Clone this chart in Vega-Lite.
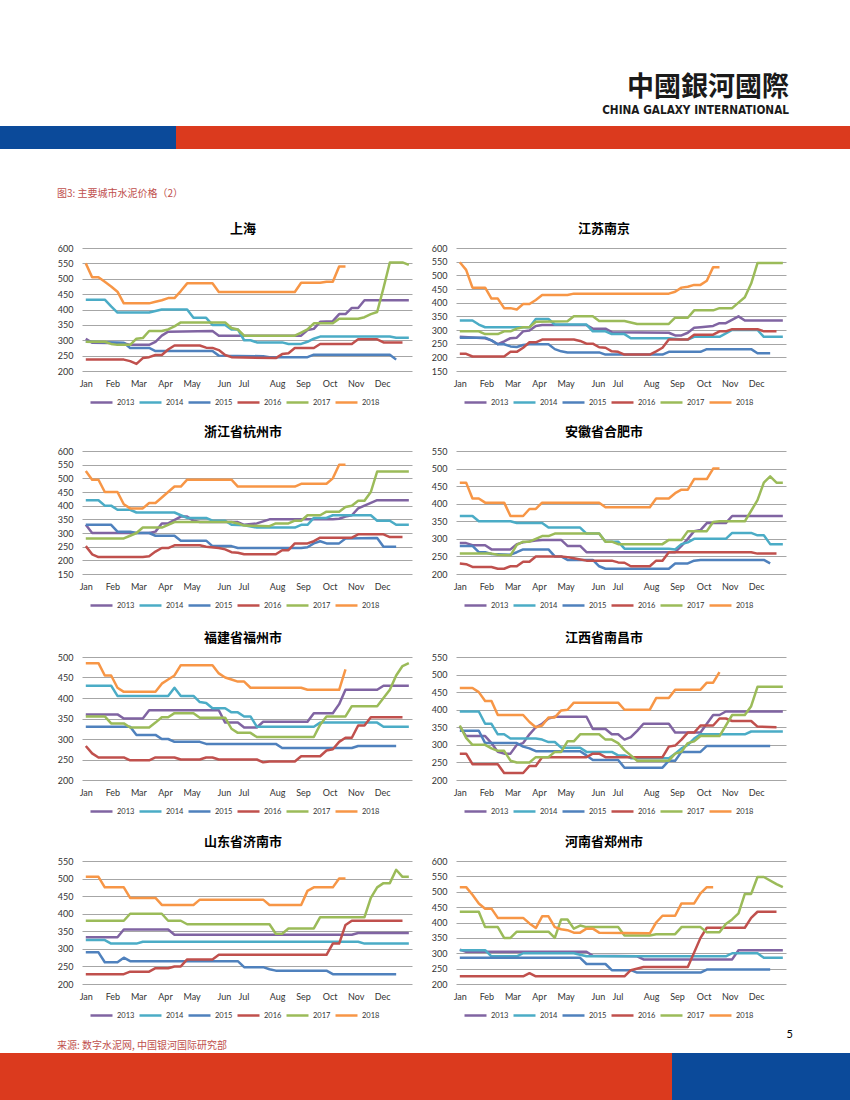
{
"$schema":"https://vega.github.io/schema/vega-lite/v6.json",
"background":"white",
"padding":{"top":74,"left":0,"right":0,"bottom":0},
"spacing":0,
"resolve":{"scale":{"color":"independent","x":"independent","y":"independent"},"legend":{"color":"independent"}},
"config":{
"view":{"stroke":null},
"axis":{"labelFont":"Lato","labelFontSize":9,"labelColor":"#333333","gridColor":"#A6A6A6","gridWidth":1,"domain":false,"ticks":false},
"legend":{"orient":"bottom","direction":"horizontal","symbolType":"stroke","symbolSize":484,"symbolStrokeWidth":3,"labelFont":"Lato","labelFontSize":7.5,"labelColor":"#333333","labelOffset":3,"columnPadding":3,"padding":7,"offset":-5},
"title":{"font":"Noto Sans CJK SC","fontSize":13,"fontWeight":"bold","color":"#000000","offset":8},
"line":{"strokeWidth":2.5,"strokeJoin":"round"}
},
"datasets":{
"sh":[
{"s":"2013","w":0,"v":305},{"s":"2013","w":1,"v":292},{"s":"2013","w":6,"v":290},{"s":"2013","w":7,"v":285},{"s":"2013","w":10,"v":285},{"s":"2013","w":11,"v":295},{"s":"2013","w":12,"v":315},{"s":"2013","w":13,"v":328},{"s":"2013","w":20,"v":330},{"s":"2013","w":21,"v":315},{"s":"2013","w":34,"v":315},{"s":"2013","w":35,"v":333},{"s":"2013","w":36,"v":337},{"s":"2013","w":37,"v":360},{"s":"2013","w":39,"v":362},{"s":"2013","w":40,"v":385},{"s":"2013","w":41,"v":385},{"s":"2013","w":42,"v":405},{"s":"2013","w":43,"v":405},{"s":"2013","w":44,"v":430},{"s":"2013","w":51,"v":430},
{"s":"2014","w":0,"v":432},{"s":"2014","w":3,"v":432},{"s":"2014","w":4,"v":410},{"s":"2014","w":5,"v":390},{"s":"2014","w":10,"v":390},{"s":"2014","w":11,"v":395},{"s":"2014","w":12,"v":400},{"s":"2014","w":16,"v":400},{"s":"2014","w":17,"v":373},{"s":"2014","w":19,"v":373},{"s":"2014","w":20,"v":350},{"s":"2014","w":22,"v":350},{"s":"2014","w":23,"v":335},{"s":"2014","w":24,"v":335},{"s":"2014","w":25,"v":300},{"s":"2014","w":26,"v":300},{"s":"2014","w":27,"v":293},{"s":"2014","w":31,"v":293},{"s":"2014","w":32,"v":288},{"s":"2014","w":34,"v":288},{"s":"2014","w":35,"v":295},{"s":"2014","w":36,"v":305},{"s":"2014","w":37,"v":312},{"s":"2014","w":48,"v":312},{"s":"2014","w":49,"v":308},{"s":"2014","w":51,"v":308},
{"s":"2015","w":0,"v":295},{"s":"2015","w":6,"v":292},{"s":"2015","w":7,"v":275},{"s":"2015","w":10,"v":275},{"s":"2015","w":11,"v":265},{"s":"2015","w":20,"v":265},{"s":"2015","w":21,"v":250},{"s":"2015","w":28,"v":248},{"s":"2015","w":29,"v":245},{"s":"2015","w":35,"v":245},{"s":"2015","w":36,"v":253},{"s":"2015","w":48,"v":253},{"s":"2015","w":49,"v":237},
{"s":"2016","w":0,"v":237},{"s":"2016","w":6,"v":237},{"s":"2016","w":7,"v":232},{"s":"2016","w":8,"v":223},{"s":"2016","w":9,"v":242},{"s":"2016","w":10,"v":245},{"s":"2016","w":11,"v":252},{"s":"2016","w":12,"v":252},{"s":"2016","w":13,"v":270},{"s":"2016","w":14,"v":283},{"s":"2016","w":18,"v":283},{"s":"2016","w":19,"v":276},{"s":"2016","w":20,"v":275},{"s":"2016","w":21,"v":268},{"s":"2016","w":22,"v":252},{"s":"2016","w":23,"v":245},{"s":"2016","w":30,"v":242},{"s":"2016","w":31,"v":255},{"s":"2016","w":32,"v":258},{"s":"2016","w":33,"v":275},{"s":"2016","w":36,"v":275},{"s":"2016","w":37,"v":288},{"s":"2016","w":42,"v":288},{"s":"2016","w":43,"v":303},{"s":"2016","w":46,"v":303},{"s":"2016","w":47,"v":293},{"s":"2016","w":50,"v":293},
{"s":"2017","w":0,"v":295},{"s":"2017","w":3,"v":295},{"s":"2017","w":4,"v":288},{"s":"2017","w":5,"v":285},{"s":"2017","w":7,"v":285},{"s":"2017","w":8,"v":305},{"s":"2017","w":9,"v":307},{"s":"2017","w":10,"v":330},{"s":"2017","w":12,"v":330},{"s":"2017","w":13,"v":335},{"s":"2017","w":14,"v":345},{"s":"2017","w":15,"v":358},{"s":"2017","w":22,"v":358},{"s":"2017","w":23,"v":340},{"s":"2017","w":24,"v":335},{"s":"2017","w":25,"v":315},{"s":"2017","w":33,"v":315},{"s":"2017","w":34,"v":325},{"s":"2017","w":35,"v":335},{"s":"2017","w":36,"v":355},{"s":"2017","w":39,"v":355},{"s":"2017","w":40,"v":370},{"s":"2017","w":43,"v":370},{"s":"2017","w":44,"v":375},{"s":"2017","w":45,"v":385},{"s":"2017","w":46,"v":392},{"s":"2017","w":47,"v":470},{"s":"2017","w":48,"v":553},{"s":"2017","w":50,"v":553},{"s":"2017","w":51,"v":545},
{"s":"2018","w":0,"v":550},{"s":"2018","w":1,"v":505},{"s":"2018","w":2,"v":505},{"s":"2018","w":3,"v":490},{"s":"2018","w":4,"v":475},{"s":"2018","w":5,"v":458},{"s":"2018","w":6,"v":420},{"s":"2018","w":10,"v":420},{"s":"2018","w":11,"v":425},{"s":"2018","w":12,"v":430},{"s":"2018","w":13,"v":437},{"s":"2018","w":14,"v":437},{"s":"2018","w":15,"v":460},{"s":"2018","w":16,"v":485},{"s":"2018","w":20,"v":485},{"s":"2018","w":21,"v":457},{"s":"2018","w":33,"v":457},{"s":"2018","w":34,"v":487},{"s":"2018","w":37,"v":487},{"s":"2018","w":38,"v":490},{"s":"2018","w":39,"v":490},{"s":"2018","w":40,"v":540},{"s":"2018","w":41,"v":540}
],
"nj":[
{"s":"2013","w":0,"v":275},{"s":"2013","w":4,"v":270},{"s":"2013","w":5,"v":262},{"s":"2013","w":6,"v":248},{"s":"2013","w":7,"v":258},{"s":"2013","w":8,"v":270},{"s":"2013","w":9,"v":272},{"s":"2013","w":10,"v":295},{"s":"2013","w":11,"v":298},{"s":"2013","w":12,"v":315},{"s":"2013","w":13,"v":318},{"s":"2013","w":20,"v":318},{"s":"2013","w":21,"v":305},{"s":"2013","w":23,"v":305},{"s":"2013","w":24,"v":292},{"s":"2013","w":33,"v":290},{"s":"2013","w":34,"v":280},{"s":"2013","w":35,"v":280},{"s":"2013","w":36,"v":290},{"s":"2013","w":37,"v":308},{"s":"2013","w":38,"v":310},{"s":"2013","w":40,"v":315},{"s":"2013","w":41,"v":325},{"s":"2013","w":42,"v":325},{"s":"2013","w":44,"v":350},{"s":"2013","w":45,"v":335},{"s":"2013","w":51,"v":335},
{"s":"2014","w":0,"v":335},{"s":"2014","w":2,"v":335},{"s":"2014","w":3,"v":320},{"s":"2014","w":4,"v":310},{"s":"2014","w":11,"v":310},{"s":"2014","w":12,"v":340},{"s":"2014","w":14,"v":340},{"s":"2014","w":15,"v":320},{"s":"2014","w":20,"v":320},{"s":"2014","w":21,"v":295},{"s":"2014","w":23,"v":295},{"s":"2014","w":24,"v":285},{"s":"2014","w":26,"v":285},{"s":"2014","w":27,"v":270},{"s":"2014","w":33,"v":270},{"s":"2014","w":35,"v":265},{"s":"2014","w":36,"v":265},{"s":"2014","w":37,"v":275},{"s":"2014","w":41,"v":275},{"s":"2014","w":43,"v":300},{"s":"2014","w":47,"v":300},{"s":"2014","w":48,"v":275},{"s":"2014","w":51,"v":275},
{"s":"2015","w":0,"v":272},{"s":"2015","w":4,"v":272},{"s":"2015","w":5,"v":262},{"s":"2015","w":6,"v":248},{"s":"2015","w":7,"v":248},{"s":"2015","w":8,"v":240},{"s":"2015","w":9,"v":238},{"s":"2015","w":10,"v":245},{"s":"2015","w":11,"v":248},{"s":"2015","w":14,"v":248},{"s":"2015","w":15,"v":230},{"s":"2015","w":16,"v":222},{"s":"2015","w":17,"v":218},{"s":"2015","w":22,"v":218},{"s":"2015","w":23,"v":210},{"s":"2015","w":32,"v":210},{"s":"2015","w":33,"v":220},{"s":"2015","w":38,"v":220},{"s":"2015","w":39,"v":230},{"s":"2015","w":46,"v":230},{"s":"2015","w":47,"v":215},{"s":"2015","w":49,"v":215},
{"s":"2016","w":0,"v":213},{"s":"2016","w":1,"v":213},{"s":"2016","w":2,"v":203},{"s":"2016","w":7,"v":203},{"s":"2016","w":8,"v":220},{"s":"2016","w":9,"v":220},{"s":"2016","w":10,"v":235},{"s":"2016","w":11,"v":255},{"s":"2016","w":12,"v":255},{"s":"2016","w":13,"v":265},{"s":"2016","w":18,"v":265},{"s":"2016","w":19,"v":260},{"s":"2016","w":20,"v":250},{"s":"2016","w":21,"v":250},{"s":"2016","w":22,"v":237},{"s":"2016","w":23,"v":235},{"s":"2016","w":24,"v":222},{"s":"2016","w":25,"v":220},{"s":"2016","w":26,"v":210},{"s":"2016","w":30,"v":210},{"s":"2016","w":31,"v":222},{"s":"2016","w":32,"v":235},{"s":"2016","w":33,"v":265},{"s":"2016","w":36,"v":265},{"s":"2016","w":37,"v":283},{"s":"2016","w":40,"v":283},{"s":"2016","w":41,"v":295},{"s":"2016","w":42,"v":295},{"s":"2016","w":43,"v":303},{"s":"2016","w":47,"v":303},{"s":"2016","w":48,"v":295},{"s":"2016","w":50,"v":295},
{"s":"2017","w":0,"v":295},{"s":"2017","w":3,"v":295},{"s":"2017","w":4,"v":285},{"s":"2017","w":6,"v":285},{"s":"2017","w":7,"v":295},{"s":"2017","w":8,"v":295},{"s":"2017","w":9,"v":305},{"s":"2017","w":10,"v":310},{"s":"2017","w":11,"v":310},{"s":"2017","w":12,"v":330},{"s":"2017","w":17,"v":332},{"s":"2017","w":18,"v":350},{"s":"2017","w":21,"v":350},{"s":"2017","w":22,"v":333},{"s":"2017","w":26,"v":333},{"s":"2017","w":28,"v":322},{"s":"2017","w":33,"v":322},{"s":"2017","w":34,"v":345},{"s":"2017","w":36,"v":345},{"s":"2017","w":37,"v":372},{"s":"2017","w":40,"v":372},{"s":"2017","w":41,"v":380},{"s":"2017","w":43,"v":380},{"s":"2017","w":44,"v":400},{"s":"2017","w":45,"v":420},{"s":"2017","w":46,"v":470},{"s":"2017","w":47,"v":545},{"s":"2017","w":51,"v":545},
{"s":"2018","w":0,"v":548},{"s":"2018","w":1,"v":520},{"s":"2018","w":2,"v":455},{"s":"2018","w":4,"v":455},{"s":"2018","w":5,"v":415},{"s":"2018","w":6,"v":415},{"s":"2018","w":7,"v":380},{"s":"2018","w":8,"v":380},{"s":"2018","w":9,"v":375},{"s":"2018","w":10,"v":395},{"s":"2018","w":11,"v":395},{"s":"2018","w":12,"v":410},{"s":"2018","w":13,"v":428},{"s":"2018","w":17,"v":428},{"s":"2018","w":18,"v":433},{"s":"2018","w":33,"v":433},{"s":"2018","w":34,"v":440},{"s":"2018","w":35,"v":455},{"s":"2018","w":36,"v":458},{"s":"2018","w":37,"v":465},{"s":"2018","w":38,"v":465},{"s":"2018","w":39,"v":480},{"s":"2018","w":40,"v":530},{"s":"2018","w":41,"v":530}
],
"hz":[
{"s":"2013","w":0,"v":330},{"s":"2013","w":1,"v":300},{"s":"2013","w":10,"v":300},{"s":"2013","w":11,"v":305},{"s":"2013","w":12,"v":335},{"s":"2013","w":13,"v":335},{"s":"2013","w":15,"v":360},{"s":"2013","w":16,"v":360},{"s":"2013","w":17,"v":345},{"s":"2013","w":18,"v":340},{"s":"2013","w":24,"v":340},{"s":"2013","w":25,"v":330},{"s":"2013","w":27,"v":335},{"s":"2013","w":29,"v":350},{"s":"2013","w":39,"v":350},{"s":"2013","w":40,"v":352},{"s":"2013","w":41,"v":360},{"s":"2013","w":42,"v":365},{"s":"2013","w":43,"v":390},{"s":"2013","w":44,"v":400},{"s":"2013","w":45,"v":410},{"s":"2013","w":46,"v":420},{"s":"2013","w":51,"v":420},
{"s":"2014","w":0,"v":420},{"s":"2014","w":2,"v":420},{"s":"2014","w":3,"v":400},{"s":"2014","w":4,"v":400},{"s":"2014","w":5,"v":385},{"s":"2014","w":7,"v":385},{"s":"2014","w":8,"v":375},{"s":"2014","w":14,"v":375},{"s":"2014","w":15,"v":365},{"s":"2014","w":16,"v":355},{"s":"2014","w":19,"v":355},{"s":"2014","w":20,"v":345},{"s":"2014","w":22,"v":345},{"s":"2014","w":23,"v":330},{"s":"2014","w":25,"v":328},{"s":"2014","w":27,"v":320},{"s":"2014","w":33,"v":320},{"s":"2014","w":34,"v":330},{"s":"2014","w":35,"v":330},{"s":"2014","w":36,"v":355},{"s":"2014","w":38,"v":355},{"s":"2014","w":39,"v":365},{"s":"2014","w":45,"v":365},{"s":"2014","w":46,"v":345},{"s":"2014","w":48,"v":345},{"s":"2014","w":49,"v":330},{"s":"2014","w":51,"v":330},
{"s":"2015","w":0,"v":330},{"s":"2015","w":4,"v":330},{"s":"2015","w":5,"v":305},{"s":"2015","w":7,"v":305},{"s":"2015","w":8,"v":300},{"s":"2015","w":10,"v":300},{"s":"2015","w":11,"v":290},{"s":"2015","w":14,"v":290},{"s":"2015","w":15,"v":272},{"s":"2015","w":19,"v":272},{"s":"2015","w":20,"v":252},{"s":"2015","w":23,"v":252},{"s":"2015","w":24,"v":245},{"s":"2015","w":34,"v":245},{"s":"2015","w":35,"v":248},{"s":"2015","w":36,"v":262},{"s":"2015","w":37,"v":270},{"s":"2015","w":38,"v":262},{"s":"2015","w":40,"v":262},{"s":"2015","w":41,"v":280},{"s":"2015","w":46,"v":282},{"s":"2015","w":47,"v":250},{"s":"2015","w":49,"v":250},
{"s":"2016","w":0,"v":252},{"s":"2016","w":1,"v":222},{"s":"2016","w":2,"v":212},{"s":"2016","w":9,"v":212},{"s":"2016","w":10,"v":215},{"s":"2016","w":11,"v":232},{"s":"2016","w":12,"v":245},{"s":"2016","w":13,"v":245},{"s":"2016","w":14,"v":255},{"s":"2016","w":18,"v":255},{"s":"2016","w":19,"v":250},{"s":"2016","w":21,"v":245},{"s":"2016","w":22,"v":240},{"s":"2016","w":23,"v":230},{"s":"2016","w":24,"v":228},{"s":"2016","w":25,"v":222},{"s":"2016","w":30,"v":222},{"s":"2016","w":31,"v":237},{"s":"2016","w":32,"v":237},{"s":"2016","w":33,"v":262},{"s":"2016","w":35,"v":262},{"s":"2016","w":36,"v":270},{"s":"2016","w":37,"v":283},{"s":"2016","w":42,"v":283},{"s":"2016","w":43,"v":295},{"s":"2016","w":47,"v":295},{"s":"2016","w":48,"v":285},{"s":"2016","w":50,"v":285},
{"s":"2017","w":0,"v":280},{"s":"2017","w":6,"v":280},{"s":"2017","w":7,"v":290},{"s":"2017","w":8,"v":300},{"s":"2017","w":9,"v":320},{"s":"2017","w":12,"v":320},{"s":"2017","w":13,"v":330},{"s":"2017","w":14,"v":340},{"s":"2017","w":23,"v":340},{"s":"2017","w":24,"v":335},{"s":"2017","w":25,"v":327},{"s":"2017","w":29,"v":325},{"s":"2017","w":30,"v":335},{"s":"2017","w":32,"v":335},{"s":"2017","w":33,"v":345},{"s":"2017","w":34,"v":345},{"s":"2017","w":35,"v":365},{"s":"2017","w":37,"v":365},{"s":"2017","w":38,"v":378},{"s":"2017","w":40,"v":378},{"s":"2017","w":41,"v":395},{"s":"2017","w":42,"v":400},{"s":"2017","w":43,"v":418},{"s":"2017","w":44,"v":418},{"s":"2017","w":45,"v":450},{"s":"2017","w":46,"v":525},{"s":"2017","w":51,"v":525},
{"s":"2018","w":0,"v":527},{"s":"2018","w":1,"v":495},{"s":"2018","w":2,"v":495},{"s":"2018","w":3,"v":450},{"s":"2018","w":5,"v":450},{"s":"2018","w":6,"v":405},{"s":"2018","w":7,"v":390},{"s":"2018","w":9,"v":390},{"s":"2018","w":10,"v":410},{"s":"2018","w":11,"v":410},{"s":"2018","w":12,"v":430},{"s":"2018","w":13,"v":450},{"s":"2018","w":14,"v":470},{"s":"2018","w":15,"v":470},{"s":"2018","w":16,"v":495},{"s":"2018","w":23,"v":495},{"s":"2018","w":24,"v":470},{"s":"2018","w":33,"v":470},{"s":"2018","w":34,"v":480},{"s":"2018","w":38,"v":480},{"s":"2018","w":39,"v":500},{"s":"2018","w":40,"v":550},{"s":"2018","w":41,"v":550}
],
"hf":[
{"s":"2013","w":0,"v":288},{"s":"2013","w":1,"v":288},{"s":"2013","w":2,"v":282},{"s":"2013","w":4,"v":282},{"s":"2013","w":5,"v":270},{"s":"2013","w":8,"v":270},{"s":"2013","w":9,"v":285},{"s":"2013","w":10,"v":290},{"s":"2013","w":12,"v":295},{"s":"2013","w":13,"v":297},{"s":"2013","w":16,"v":297},{"s":"2013","w":17,"v":280},{"s":"2013","w":19,"v":280},{"s":"2013","w":20,"v":262},{"s":"2013","w":34,"v":262},{"s":"2013","w":35,"v":280},{"s":"2013","w":36,"v":300},{"s":"2013","w":37,"v":322},{"s":"2013","w":38,"v":325},{"s":"2013","w":39,"v":345},{"s":"2013","w":42,"v":345},{"s":"2013","w":43,"v":365},{"s":"2013","w":51,"v":365},
{"s":"2014","w":0,"v":365},{"s":"2014","w":2,"v":365},{"s":"2014","w":3,"v":350},{"s":"2014","w":8,"v":350},{"s":"2014","w":9,"v":345},{"s":"2014","w":13,"v":345},{"s":"2014","w":14,"v":332},{"s":"2014","w":19,"v":332},{"s":"2014","w":20,"v":315},{"s":"2014","w":22,"v":315},{"s":"2014","w":23,"v":292},{"s":"2014","w":25,"v":292},{"s":"2014","w":26,"v":272},{"s":"2014","w":33,"v":272},{"s":"2014","w":34,"v":270},{"s":"2014","w":35,"v":285},{"s":"2014","w":36,"v":290},{"s":"2014","w":37,"v":300},{"s":"2014","w":42,"v":300},{"s":"2014","w":43,"v":317},{"s":"2014","w":46,"v":317},{"s":"2014","w":47,"v":310},{"s":"2014","w":48,"v":310},{"s":"2014","w":49,"v":285},{"s":"2014","w":51,"v":285},
{"s":"2015","w":0,"v":280},{"s":"2015","w":2,"v":280},{"s":"2015","w":3,"v":262},{"s":"2015","w":4,"v":262},{"s":"2015","w":5,"v":257},{"s":"2015","w":8,"v":255},{"s":"2015","w":9,"v":262},{"s":"2015","w":10,"v":270},{"s":"2015","w":14,"v":270},{"s":"2015","w":15,"v":250},{"s":"2015","w":16,"v":250},{"s":"2015","w":17,"v":240},{"s":"2015","w":21,"v":240},{"s":"2015","w":22,"v":222},{"s":"2015","w":23,"v":215},{"s":"2015","w":33,"v":215},{"s":"2015","w":34,"v":230},{"s":"2015","w":36,"v":230},{"s":"2015","w":37,"v":238},{"s":"2015","w":38,"v":240},{"s":"2015","w":48,"v":240},{"s":"2015","w":49,"v":230},
{"s":"2016","w":0,"v":230},{"s":"2016","w":1,"v":228},{"s":"2016","w":2,"v":220},{"s":"2016","w":5,"v":220},{"s":"2016","w":6,"v":215},{"s":"2016","w":7,"v":215},{"s":"2016","w":8,"v":222},{"s":"2016","w":9,"v":222},{"s":"2016","w":10,"v":235},{"s":"2016","w":11,"v":235},{"s":"2016","w":12,"v":250},{"s":"2016","w":16,"v":250},{"s":"2016","w":17,"v":248},{"s":"2016","w":18,"v":245},{"s":"2016","w":20,"v":238},{"s":"2016","w":24,"v":238},{"s":"2016","w":25,"v":233},{"s":"2016","w":26,"v":232},{"s":"2016","w":27,"v":222},{"s":"2016","w":30,"v":222},{"s":"2016","w":31,"v":238},{"s":"2016","w":32,"v":238},{"s":"2016","w":33,"v":262},{"s":"2016","w":46,"v":262},{"s":"2016","w":47,"v":258},{"s":"2016","w":50,"v":258},
{"s":"2017","w":0,"v":258},{"s":"2017","w":5,"v":258},{"s":"2017","w":6,"v":255},{"s":"2017","w":8,"v":253},{"s":"2017","w":9,"v":283},{"s":"2017","w":10,"v":292},{"s":"2017","w":11,"v":292},{"s":"2017","w":12,"v":300},{"s":"2017","w":13,"v":308},{"s":"2017","w":14,"v":308},{"s":"2017","w":15,"v":315},{"s":"2017","w":22,"v":315},{"s":"2017","w":23,"v":292},{"s":"2017","w":24,"v":292},{"s":"2017","w":25,"v":285},{"s":"2017","w":32,"v":285},{"s":"2017","w":33,"v":297},{"s":"2017","w":35,"v":297},{"s":"2017","w":36,"v":322},{"s":"2017","w":39,"v":322},{"s":"2017","w":40,"v":348},{"s":"2017","w":41,"v":350},{"s":"2017","w":45,"v":350},{"s":"2017","w":46,"v":380},{"s":"2017","w":47,"v":410},{"s":"2017","w":48,"v":460},{"s":"2017","w":49,"v":478},{"s":"2017","w":50,"v":460},{"s":"2017","w":51,"v":460},
{"s":"2018","w":0,"v":460},{"s":"2018","w":1,"v":460},{"s":"2018","w":2,"v":415},{"s":"2018","w":3,"v":415},{"s":"2018","w":4,"v":403},{"s":"2018","w":7,"v":403},{"s":"2018","w":8,"v":365},{"s":"2018","w":10,"v":365},{"s":"2018","w":11,"v":385},{"s":"2018","w":12,"v":385},{"s":"2018","w":13,"v":403},{"s":"2018","w":22,"v":403},{"s":"2018","w":23,"v":390},{"s":"2018","w":30,"v":390},{"s":"2018","w":31,"v":415},{"s":"2018","w":33,"v":415},{"s":"2018","w":34,"v":430},{"s":"2018","w":35,"v":440},{"s":"2018","w":36,"v":440},{"s":"2018","w":37,"v":470},{"s":"2018","w":39,"v":470},{"s":"2018","w":40,"v":500},{"s":"2018","w":41,"v":500}
],
"fz":[
{"s":"2013","w":0,"v":360},{"s":"2013","w":5,"v":360},{"s":"2013","w":6,"v":350},{"s":"2013","w":9,"v":350},{"s":"2013","w":10,"v":370},{"s":"2013","w":21,"v":370},{"s":"2013","w":22,"v":340},{"s":"2013","w":24,"v":340},{"s":"2013","w":25,"v":328},{"s":"2013","w":27,"v":328},{"s":"2013","w":28,"v":342},{"s":"2013","w":35,"v":342},{"s":"2013","w":36,"v":363},{"s":"2013","w":39,"v":363},{"s":"2013","w":40,"v":385},{"s":"2013","w":41,"v":420},{"s":"2013","w":46,"v":420},{"s":"2013","w":47,"v":430},{"s":"2013","w":51,"v":430},
{"s":"2014","w":0,"v":430},{"s":"2014","w":4,"v":430},{"s":"2014","w":5,"v":405},{"s":"2014","w":13,"v":405},{"s":"2014","w":14,"v":425},{"s":"2014","w":15,"v":405},{"s":"2014","w":17,"v":405},{"s":"2014","w":18,"v":390},{"s":"2014","w":19,"v":388},{"s":"2014","w":20,"v":375},{"s":"2014","w":22,"v":375},{"s":"2014","w":23,"v":365},{"s":"2014","w":24,"v":365},{"s":"2014","w":25,"v":355},{"s":"2014","w":26,"v":355},{"s":"2014","w":27,"v":330},{"s":"2014","w":36,"v":330},{"s":"2014","w":37,"v":340},{"s":"2014","w":46,"v":340},{"s":"2014","w":47,"v":330},{"s":"2014","w":51,"v":330},
{"s":"2015","w":0,"v":330},{"s":"2015","w":7,"v":330},{"s":"2015","w":8,"v":310},{"s":"2015","w":11,"v":310},{"s":"2015","w":12,"v":300},{"s":"2015","w":13,"v":300},{"s":"2015","w":14,"v":293},{"s":"2015","w":18,"v":293},{"s":"2015","w":19,"v":288},{"s":"2015","w":30,"v":288},{"s":"2015","w":31,"v":278},{"s":"2015","w":42,"v":278},{"s":"2015","w":43,"v":283},{"s":"2015","w":49,"v":283},
{"s":"2016","w":0,"v":283},{"s":"2016","w":1,"v":265},{"s":"2016","w":2,"v":255},{"s":"2016","w":6,"v":255},{"s":"2016","w":7,"v":248},{"s":"2016","w":10,"v":248},{"s":"2016","w":11,"v":255},{"s":"2016","w":14,"v":255},{"s":"2016","w":15,"v":250},{"s":"2016","w":18,"v":250},{"s":"2016","w":19,"v":255},{"s":"2016","w":20,"v":255},{"s":"2016","w":21,"v":250},{"s":"2016","w":27,"v":250},{"s":"2016","w":28,"v":243},{"s":"2016","w":29,"v":245},{"s":"2016","w":33,"v":245},{"s":"2016","w":34,"v":258},{"s":"2016","w":37,"v":258},{"s":"2016","w":38,"v":272},{"s":"2016","w":39,"v":275},{"s":"2016","w":40,"v":293},{"s":"2016","w":41,"v":303},{"s":"2016","w":42,"v":303},{"s":"2016","w":43,"v":333},{"s":"2016","w":44,"v":333},{"s":"2016","w":45,"v":353},{"s":"2016","w":50,"v":353},
{"s":"2017","w":0,"v":355},{"s":"2017","w":3,"v":355},{"s":"2017","w":4,"v":338},{"s":"2017","w":6,"v":338},{"s":"2017","w":7,"v":328},{"s":"2017","w":10,"v":328},{"s":"2017","w":11,"v":340},{"s":"2017","w":12,"v":353},{"s":"2017","w":13,"v":353},{"s":"2017","w":14,"v":363},{"s":"2017","w":17,"v":363},{"s":"2017","w":18,"v":352},{"s":"2017","w":22,"v":352},{"s":"2017","w":23,"v":325},{"s":"2017","w":24,"v":315},{"s":"2017","w":26,"v":315},{"s":"2017","w":27,"v":305},{"s":"2017","w":36,"v":305},{"s":"2017","w":37,"v":335},{"s":"2017","w":38,"v":355},{"s":"2017","w":41,"v":355},{"s":"2017","w":42,"v":380},{"s":"2017","w":46,"v":380},{"s":"2017","w":47,"v":400},{"s":"2017","w":48,"v":420},{"s":"2017","w":49,"v":455},{"s":"2017","w":50,"v":478},{"s":"2017","w":51,"v":485},
{"s":"2018","w":0,"v":485},{"s":"2018","w":2,"v":485},{"s":"2018","w":3,"v":455},{"s":"2018","w":4,"v":455},{"s":"2018","w":5,"v":425},{"s":"2018","w":6,"v":415},{"s":"2018","w":11,"v":415},{"s":"2018","w":12,"v":435},{"s":"2018","w":13,"v":445},{"s":"2018","w":14,"v":455},{"s":"2018","w":15,"v":480},{"s":"2018","w":20,"v":480},{"s":"2018","w":21,"v":460},{"s":"2018","w":22,"v":450},{"s":"2018","w":23,"v":445},{"s":"2018","w":24,"v":440},{"s":"2018","w":25,"v":440},{"s":"2018","w":26,"v":425},{"s":"2018","w":34,"v":425},{"s":"2018","w":35,"v":420},{"s":"2018","w":40,"v":420},{"s":"2018","w":41,"v":470}
],
"nc":[
{"s":"2013","w":0,"v":352},{"s":"2013","w":1,"v":325},{"s":"2013","w":4,"v":325},{"s":"2013","w":5,"v":305},{"s":"2013","w":6,"v":280},{"s":"2013","w":7,"v":275},{"s":"2013","w":8,"v":275},{"s":"2013","w":9,"v":300},{"s":"2013","w":10,"v":305},{"s":"2013","w":11,"v":330},{"s":"2013","w":12,"v":350},{"s":"2013","w":13,"v":360},{"s":"2013","w":14,"v":375},{"s":"2013","w":15,"v":380},{"s":"2013","w":20,"v":380},{"s":"2013","w":21,"v":345},{"s":"2013","w":23,"v":345},{"s":"2013","w":24,"v":330},{"s":"2013","w":25,"v":330},{"s":"2013","w":26,"v":315},{"s":"2013","w":27,"v":322},{"s":"2013","w":28,"v":340},{"s":"2013","w":29,"v":360},{"s":"2013","w":33,"v":360},{"s":"2013","w":34,"v":335},{"s":"2013","w":38,"v":335},{"s":"2013","w":39,"v":360},{"s":"2013","w":40,"v":385},{"s":"2013","w":41,"v":385},{"s":"2013","w":42,"v":395},{"s":"2013","w":51,"v":395},
{"s":"2014","w":0,"v":395},{"s":"2014","w":3,"v":395},{"s":"2014","w":4,"v":360},{"s":"2014","w":5,"v":360},{"s":"2014","w":6,"v":330},{"s":"2014","w":7,"v":330},{"s":"2014","w":8,"v":318},{"s":"2014","w":12,"v":318},{"s":"2014","w":13,"v":315},{"s":"2014","w":14,"v":308},{"s":"2014","w":15,"v":308},{"s":"2014","w":16,"v":292},{"s":"2014","w":19,"v":292},{"s":"2014","w":20,"v":280},{"s":"2014","w":24,"v":280},{"s":"2014","w":25,"v":270},{"s":"2014","w":26,"v":270},{"s":"2014","w":27,"v":262},{"s":"2014","w":33,"v":262},{"s":"2014","w":34,"v":275},{"s":"2014","w":35,"v":290},{"s":"2014","w":36,"v":300},{"s":"2014","w":37,"v":318},{"s":"2014","w":38,"v":330},{"s":"2014","w":45,"v":330},{"s":"2014","w":46,"v":338},{"s":"2014","w":51,"v":338},
{"s":"2015","w":0,"v":340},{"s":"2015","w":3,"v":340},{"s":"2015","w":4,"v":305},{"s":"2015","w":9,"v":305},{"s":"2015","w":10,"v":295},{"s":"2015","w":11,"v":290},{"s":"2015","w":12,"v":282},{"s":"2015","w":19,"v":282},{"s":"2015","w":20,"v":270},{"s":"2015","w":21,"v":257},{"s":"2015","w":25,"v":257},{"s":"2015","w":26,"v":235},{"s":"2015","w":32,"v":235},{"s":"2015","w":33,"v":255},{"s":"2015","w":34,"v":255},{"s":"2015","w":35,"v":280},{"s":"2015","w":38,"v":280},{"s":"2015","w":39,"v":297},{"s":"2015","w":49,"v":297},
{"s":"2016","w":0,"v":275},{"s":"2016","w":1,"v":275},{"s":"2016","w":2,"v":245},{"s":"2016","w":6,"v":245},{"s":"2016","w":7,"v":220},{"s":"2016","w":10,"v":220},{"s":"2016","w":11,"v":240},{"s":"2016","w":12,"v":240},{"s":"2016","w":13,"v":265},{"s":"2016","w":20,"v":265},{"s":"2016","w":21,"v":275},{"s":"2016","w":22,"v":275},{"s":"2016","w":23,"v":265},{"s":"2016","w":32,"v":265},{"s":"2016","w":33,"v":295},{"s":"2016","w":34,"v":298},{"s":"2016","w":35,"v":315},{"s":"2016","w":36,"v":335},{"s":"2016","w":37,"v":335},{"s":"2016","w":38,"v":355},{"s":"2016","w":40,"v":355},{"s":"2016","w":41,"v":375},{"s":"2016","w":42,"v":375},{"s":"2016","w":43,"v":368},{"s":"2016","w":46,"v":368},{"s":"2016","w":47,"v":352},{"s":"2016","w":50,"v":350},
{"s":"2017","w":0,"v":355},{"s":"2017","w":1,"v":320},{"s":"2017","w":2,"v":300},{"s":"2017","w":4,"v":300},{"s":"2017","w":5,"v":290},{"s":"2017","w":6,"v":283},{"s":"2017","w":7,"v":283},{"s":"2017","w":8,"v":255},{"s":"2017","w":9,"v":250},{"s":"2017","w":11,"v":250},{"s":"2017","w":12,"v":265},{"s":"2017","w":14,"v":265},{"s":"2017","w":15,"v":280},{"s":"2017","w":16,"v":280},{"s":"2017","w":17,"v":310},{"s":"2017","w":18,"v":310},{"s":"2017","w":19,"v":330},{"s":"2017","w":22,"v":330},{"s":"2017","w":23,"v":315},{"s":"2017","w":24,"v":315},{"s":"2017","w":25,"v":305},{"s":"2017","w":26,"v":285},{"s":"2017","w":27,"v":270},{"s":"2017","w":28,"v":255},{"s":"2017","w":33,"v":255},{"s":"2017","w":34,"v":275},{"s":"2017","w":35,"v":280},{"s":"2017","w":36,"v":305},{"s":"2017","w":37,"v":310},{"s":"2017","w":38,"v":325},{"s":"2017","w":41,"v":325},{"s":"2017","w":42,"v":355},{"s":"2017","w":43,"v":385},{"s":"2017","w":45,"v":385},{"s":"2017","w":46,"v":410},{"s":"2017","w":47,"v":465},{"s":"2017","w":51,"v":465},
{"s":"2018","w":0,"v":462},{"s":"2018","w":2,"v":462},{"s":"2018","w":3,"v":450},{"s":"2018","w":4,"v":425},{"s":"2018","w":5,"v":425},{"s":"2018","w":6,"v":385},{"s":"2018","w":10,"v":385},{"s":"2018","w":11,"v":365},{"s":"2018","w":12,"v":350},{"s":"2018","w":13,"v":355},{"s":"2018","w":14,"v":378},{"s":"2018","w":15,"v":378},{"s":"2018","w":16,"v":398},{"s":"2018","w":17,"v":400},{"s":"2018","w":18,"v":420},{"s":"2018","w":25,"v":420},{"s":"2018","w":26,"v":400},{"s":"2018","w":30,"v":400},{"s":"2018","w":31,"v":433},{"s":"2018","w":33,"v":433},{"s":"2018","w":34,"v":457},{"s":"2018","w":38,"v":457},{"s":"2018","w":39,"v":477},{"s":"2018","w":40,"v":477},{"s":"2018","w":41,"v":507}
],
"jn":[
{"s":"2013","w":0,"v":333},{"s":"2013","w":5,"v":333},{"s":"2013","w":6,"v":355},{"s":"2013","w":13,"v":355},{"s":"2013","w":14,"v":340},{"s":"2013","w":42,"v":340},{"s":"2013","w":43,"v":345},{"s":"2013","w":51,"v":345},
{"s":"2014","w":0,"v":325},{"s":"2014","w":3,"v":325},{"s":"2014","w":4,"v":315},{"s":"2014","w":8,"v":315},{"s":"2014","w":9,"v":320},{"s":"2014","w":43,"v":320},{"s":"2014","w":44,"v":315},{"s":"2014","w":51,"v":315},
{"s":"2015","w":0,"v":290},{"s":"2015","w":2,"v":290},{"s":"2015","w":3,"v":262},{"s":"2015","w":5,"v":262},{"s":"2015","w":6,"v":275},{"s":"2015","w":7,"v":265},{"s":"2015","w":24,"v":265},{"s":"2015","w":25,"v":248},{"s":"2015","w":28,"v":248},{"s":"2015","w":29,"v":242},{"s":"2015","w":30,"v":238},{"s":"2015","w":38,"v":238},{"s":"2015","w":39,"v":228},{"s":"2015","w":49,"v":228},
{"s":"2016","w":0,"v":228},{"s":"2016","w":6,"v":228},{"s":"2016","w":7,"v":235},{"s":"2016","w":10,"v":235},{"s":"2016","w":11,"v":245},{"s":"2016","w":13,"v":245},{"s":"2016","w":14,"v":250},{"s":"2016","w":15,"v":250},{"s":"2016","w":16,"v":270},{"s":"2016","w":20,"v":270},{"s":"2016","w":21,"v":283},{"s":"2016","w":38,"v":283},{"s":"2016","w":39,"v":315},{"s":"2016","w":40,"v":315},{"s":"2016","w":41,"v":368},{"s":"2016","w":42,"v":380},{"s":"2016","w":50,"v":380},
{"s":"2017","w":0,"v":380},{"s":"2017","w":6,"v":380},{"s":"2017","w":7,"v":400},{"s":"2017","w":12,"v":400},{"s":"2017","w":13,"v":380},{"s":"2017","w":15,"v":380},{"s":"2017","w":16,"v":370},{"s":"2017","w":29,"v":370},{"s":"2017","w":30,"v":343},{"s":"2017","w":31,"v":343},{"s":"2017","w":32,"v":358},{"s":"2017","w":36,"v":358},{"s":"2017","w":37,"v":390},{"s":"2017","w":44,"v":390},{"s":"2017","w":45,"v":445},{"s":"2017","w":46,"v":475},{"s":"2017","w":47,"v":487},{"s":"2017","w":48,"v":487},{"s":"2017","w":49,"v":525},{"s":"2017","w":50,"v":505},{"s":"2017","w":51,"v":505},
{"s":"2018","w":0,"v":505},{"s":"2018","w":2,"v":505},{"s":"2018","w":3,"v":475},{"s":"2018","w":6,"v":475},{"s":"2018","w":7,"v":445},{"s":"2018","w":11,"v":445},{"s":"2018","w":12,"v":425},{"s":"2018","w":17,"v":425},{"s":"2018","w":18,"v":440},{"s":"2018","w":28,"v":440},{"s":"2018","w":29,"v":425},{"s":"2018","w":34,"v":425},{"s":"2018","w":35,"v":465},{"s":"2018","w":36,"v":475},{"s":"2018","w":39,"v":475},{"s":"2018","w":40,"v":500},{"s":"2018","w":41,"v":500}
],
"zz":[
{"s":"2013","w":0,"v":312},{"s":"2013","w":1,"v":305},{"s":"2013","w":20,"v":305},{"s":"2013","w":21,"v":292},{"s":"2013","w":28,"v":290},{"s":"2013","w":29,"v":280},{"s":"2013","w":43,"v":280},{"s":"2013","w":44,"v":310},{"s":"2013","w":51,"v":310},
{"s":"2014","w":0,"v":310},{"s":"2014","w":4,"v":310},{"s":"2014","w":5,"v":290},{"s":"2014","w":9,"v":290},{"s":"2014","w":10,"v":300},{"s":"2014","w":18,"v":300},{"s":"2014","w":20,"v":290},{"s":"2014","w":42,"v":290},{"s":"2014","w":43,"v":300},{"s":"2014","w":47,"v":300},{"s":"2014","w":48,"v":285},{"s":"2014","w":51,"v":285},
{"s":"2015","w":0,"v":285},{"s":"2015","w":19,"v":285},{"s":"2015","w":20,"v":265},{"s":"2015","w":23,"v":265},{"s":"2015","w":24,"v":245},{"s":"2015","w":27,"v":245},{"s":"2015","w":28,"v":237},{"s":"2015","w":38,"v":237},{"s":"2015","w":39,"v":247},{"s":"2015","w":49,"v":247},
{"s":"2016","w":0,"v":225},{"s":"2016","w":10,"v":225},{"s":"2016","w":11,"v":235},{"s":"2016","w":12,"v":225},{"s":"2016","w":26,"v":225},{"s":"2016","w":27,"v":245},{"s":"2016","w":29,"v":255},{"s":"2016","w":36,"v":255},{"s":"2016","w":38,"v":350},{"s":"2016","w":39,"v":383},{"s":"2016","w":45,"v":383},{"s":"2016","w":46,"v":415},{"s":"2016","w":47,"v":435},{"s":"2016","w":50,"v":435},
{"s":"2017","w":0,"v":435},{"s":"2017","w":3,"v":435},{"s":"2017","w":4,"v":385},{"s":"2017","w":6,"v":385},{"s":"2017","w":7,"v":350},{"s":"2017","w":8,"v":350},{"s":"2017","w":9,"v":370},{"s":"2017","w":14,"v":370},{"s":"2017","w":15,"v":350},{"s":"2017","w":16,"v":410},{"s":"2017","w":17,"v":410},{"s":"2017","w":18,"v":380},{"s":"2017","w":19,"v":390},{"s":"2017","w":20,"v":385},{"s":"2017","w":25,"v":385},{"s":"2017","w":26,"v":358},{"s":"2017","w":30,"v":358},{"s":"2017","w":31,"v":362},{"s":"2017","w":34,"v":362},{"s":"2017","w":35,"v":385},{"s":"2017","w":38,"v":385},{"s":"2017","w":39,"v":368},{"s":"2017","w":41,"v":368},{"s":"2017","w":42,"v":395},{"s":"2017","w":43,"v":410},{"s":"2017","w":44,"v":430},{"s":"2017","w":45,"v":493},{"s":"2017","w":46,"v":493},{"s":"2017","w":47,"v":548},{"s":"2017","w":48,"v":548},{"s":"2017","w":50,"v":525},{"s":"2017","w":51,"v":515},
{"s":"2018","w":0,"v":515},{"s":"2018","w":1,"v":515},{"s":"2018","w":2,"v":490},{"s":"2018","w":3,"v":462},{"s":"2018","w":4,"v":445},{"s":"2018","w":5,"v":445},{"s":"2018","w":6,"v":415},{"s":"2018","w":10,"v":415},{"s":"2018","w":11,"v":397},{"s":"2018","w":12,"v":382},{"s":"2018","w":13,"v":420},{"s":"2018","w":14,"v":420},{"s":"2018","w":15,"v":385},{"s":"2018","w":16,"v":378},{"s":"2018","w":17,"v":375},{"s":"2018","w":18,"v":367},{"s":"2018","w":19,"v":367},{"s":"2018","w":20,"v":380},{"s":"2018","w":21,"v":380},{"s":"2018","w":22,"v":367},{"s":"2018","w":30,"v":365},{"s":"2018","w":31,"v":400},{"s":"2018","w":32,"v":422},{"s":"2018","w":34,"v":422},{"s":"2018","w":35,"v":462},{"s":"2018","w":37,"v":462},{"s":"2018","w":38,"v":495},{"s":"2018","w":39,"v":515},{"s":"2018","w":40,"v":515}
]
},
"vconcat":[
{
"width":850,"height":63,
"title":{"text":"中國銀河國際","subtitle":"CHINA GALAXY INTERNATIONAL","anchor":"end","frame":"group","dx":-61,"offset":8,"font":"Noto Sans CJK TC","fontSize":27,"fontWeight":"bold","color":"#1A1A1A","subtitleFont":"Liberation Sans Narrow, DejaVu Sans Condensed, Liberation Sans","subtitleFontSize":11.7,"subtitleFontWeight":"bold","subtitleColor":"#1A1A1A","subtitlePadding":3},
"data":{"values":[{"p":"蓝","a":0,"b":176,"r":"条"},{"p":"红","a":176,"b":850,"r":"条"}]},
"mark":{"type":"bar"},
"encoding":{
"x":{"field":"a","type":"quantitative","scale":{"domain":[0,850],"nice":false,"zero":false},"axis":null},
"x2":{"field":"b"},
"y":{"field":"r","type":"nominal","axis":null,"scale":{"paddingInner":0,"paddingOuter":0.8696,"align":0}},
"color":{"field":"p","type":"nominal","scale":{"domain":["蓝","红"],"range":["#0B4A9A","#DB3A1E"]},"legend":null}
}
},
{
"title":{"text":"图3:  主要城市水泥价格（2）","anchor":"start","frame":"bounds","dx":57,"offset":24,"fontSize":10,"fontWeight":"normal","color":"#C0504D"},
"spacing":19,
"resolve":{"scale":{"color":"independent","x":"independent","y":"independent"},"legend":{"color":"independent"}},
"hconcat":[
{"width":38,"height":178,"data":{"values":[]},"mark":"rule","encoding":{}},
{"width":330,"height":123,"title":{"text":"上海","frame":"group","dx":-4},"data":{"name":"sh"},"mark":"line",
"encoding":{
"x":{"field":"w","type":"quantitative","scale":{"domain":[-0.6,51.5],"nice":false,"zero":false},"axis":{"values":[0,4.2,8.3,12.5,16.7,21.8,24.9,30.2,34.3,38.5,42.6,46.8],"labelExpr":"datum.value < 2 ? 'Jan' : datum.value < 6 ? 'Feb' : datum.value < 10 ? 'Mar' : datum.value < 14 ? 'Apr' : datum.value < 19 ? 'May' : datum.value < 23 ? 'Jun' : datum.value < 27 ? 'Jul' : datum.value < 32 ? 'Aug' : datum.value < 36 ? 'Sep' : datum.value < 40 ? 'Oct' : datum.value < 44 ? 'Nov' : 'Dec'","grid":false,"labelPadding":8,"labelFlush":false,"labelOverlap":false,"title":null}},
"y":{"field":"v","type":"quantitative","scale":{"domain":[200,600],"nice":false,"zero":false},"axis":{"values":[200,250,300,350,400,450,500,550,600],"labelPadding":9,"title":null,"grid":true}},
"color":{"field":"s","type":"nominal","scale":{"domain":["2013","2014","2015","2016","2017","2018"],"range":["#8064A2","#4BACC6","#4F81BD","#C0504D","#9BBB59","#F79646"]},"legend":{"title":null}}
}},
{"width":330,"height":123,"title":{"text":"江苏南京","frame":"group","dx":-17},"data":{"name":"nj"},"mark":"line",
"encoding":{
"x":{"field":"w","type":"quantitative","scale":{"domain":[-0.6,51.5],"nice":false,"zero":false},"axis":{"values":[0,4.2,8.3,12.5,16.7,21.8,24.9,30.2,34.3,38.5,42.6,46.8],"labelExpr":"datum.value < 2 ? 'Jan' : datum.value < 6 ? 'Feb' : datum.value < 10 ? 'Mar' : datum.value < 14 ? 'Apr' : datum.value < 19 ? 'May' : datum.value < 23 ? 'Jun' : datum.value < 27 ? 'Jul' : datum.value < 32 ? 'Aug' : datum.value < 36 ? 'Sep' : datum.value < 40 ? 'Oct' : datum.value < 44 ? 'Nov' : 'Dec'","grid":false,"labelPadding":8,"labelFlush":false,"labelOverlap":false,"title":null}},
"y":{"field":"v","type":"quantitative","scale":{"domain":[150,600],"nice":false,"zero":false},"axis":{"values":[150,200,250,300,350,400,450,500,550,600],"labelPadding":9,"title":null,"grid":true}},
"color":{"field":"s","type":"nominal","scale":{"domain":["2013","2014","2015","2016","2017","2018"],"range":["#8064A2","#4BACC6","#4F81BD","#C0504D","#9BBB59","#F79646"]},"legend":{"title":null}}
}}
]
},
{
"spacing":19,
"resolve":{"scale":{"color":"independent","x":"independent","y":"independent"},"legend":{"color":"independent"}},
"hconcat":[
{"width":38,"height":181,"data":{"values":[]},"mark":"rule","encoding":{}},
{"width":330,"height":123,"title":{"text":"浙江省杭州市","frame":"group","dx":-4},"data":{"name":"hz"},"mark":"line",
"encoding":{
"x":{"field":"w","type":"quantitative","scale":{"domain":[-0.6,51.5],"nice":false,"zero":false},"axis":{"values":[0,4.2,8.3,12.5,16.7,21.8,24.9,30.2,34.3,38.5,42.6,46.8],"labelExpr":"datum.value < 2 ? 'Jan' : datum.value < 6 ? 'Feb' : datum.value < 10 ? 'Mar' : datum.value < 14 ? 'Apr' : datum.value < 19 ? 'May' : datum.value < 23 ? 'Jun' : datum.value < 27 ? 'Jul' : datum.value < 32 ? 'Aug' : datum.value < 36 ? 'Sep' : datum.value < 40 ? 'Oct' : datum.value < 44 ? 'Nov' : 'Dec'","grid":false,"labelPadding":8,"labelFlush":false,"labelOverlap":false,"title":null}},
"y":{"field":"v","type":"quantitative","scale":{"domain":[150,600],"nice":false,"zero":false},"axis":{"values":[150,200,250,300,350,400,450,500,550,600],"labelPadding":9,"title":null,"grid":true}},
"color":{"field":"s","type":"nominal","scale":{"domain":["2013","2014","2015","2016","2017","2018"],"range":["#8064A2","#4BACC6","#4F81BD","#C0504D","#9BBB59","#F79646"]},"legend":{"title":null}}
}},
{"width":330,"height":123,"title":{"text":"安徽省合肥市","frame":"group","dx":-17},"data":{"name":"hf"},"mark":"line",
"encoding":{
"x":{"field":"w","type":"quantitative","scale":{"domain":[-0.6,51.5],"nice":false,"zero":false},"axis":{"values":[0,4.2,8.3,12.5,16.7,21.8,24.9,30.2,34.3,38.5,42.6,46.8],"labelExpr":"datum.value < 2 ? 'Jan' : datum.value < 6 ? 'Feb' : datum.value < 10 ? 'Mar' : datum.value < 14 ? 'Apr' : datum.value < 19 ? 'May' : datum.value < 23 ? 'Jun' : datum.value < 27 ? 'Jul' : datum.value < 32 ? 'Aug' : datum.value < 36 ? 'Sep' : datum.value < 40 ? 'Oct' : datum.value < 44 ? 'Nov' : 'Dec'","grid":false,"labelPadding":8,"labelFlush":false,"labelOverlap":false,"title":null}},
"y":{"field":"v","type":"quantitative","scale":{"domain":[200,550],"nice":false,"zero":false},"axis":{"values":[200,250,300,350,400,450,500,550],"labelPadding":9,"title":null,"grid":true}},
"color":{"field":"s","type":"nominal","scale":{"domain":["2013","2014","2015","2016","2017","2018"],"range":["#8064A2","#4BACC6","#4F81BD","#C0504D","#9BBB59","#F79646"]},"legend":{"title":null}}
}}
]
},
{
"spacing":19,
"resolve":{"scale":{"color":"independent","x":"independent","y":"independent"},"legend":{"color":"independent"}},
"hconcat":[
{"width":38,"height":179,"data":{"values":[]},"mark":"rule","encoding":{}},
{"width":330,"height":123,"title":{"text":"福建省福州市","frame":"group","dx":-4},"data":{"name":"fz"},"mark":"line",
"encoding":{
"x":{"field":"w","type":"quantitative","scale":{"domain":[-0.6,51.5],"nice":false,"zero":false},"axis":{"values":[0,4.2,8.3,12.5,16.7,21.8,24.9,30.2,34.3,38.5,42.6,46.8],"labelExpr":"datum.value < 2 ? 'Jan' : datum.value < 6 ? 'Feb' : datum.value < 10 ? 'Mar' : datum.value < 14 ? 'Apr' : datum.value < 19 ? 'May' : datum.value < 23 ? 'Jun' : datum.value < 27 ? 'Jul' : datum.value < 32 ? 'Aug' : datum.value < 36 ? 'Sep' : datum.value < 40 ? 'Oct' : datum.value < 44 ? 'Nov' : 'Dec'","grid":false,"labelPadding":8,"labelFlush":false,"labelOverlap":false,"title":null}},
"y":{"field":"v","type":"quantitative","scale":{"domain":[200,500],"nice":false,"zero":false},"axis":{"values":[200,250,300,350,400,450,500],"labelPadding":9,"title":null,"grid":true}},
"color":{"field":"s","type":"nominal","scale":{"domain":["2013","2014","2015","2016","2017","2018"],"range":["#8064A2","#4BACC6","#4F81BD","#C0504D","#9BBB59","#F79646"]},"legend":{"title":null}}
}},
{"width":330,"height":123,"title":{"text":"江西省南昌市","frame":"group","dx":-17},"data":{"name":"nc"},"mark":"line",
"encoding":{
"x":{"field":"w","type":"quantitative","scale":{"domain":[-0.6,51.5],"nice":false,"zero":false},"axis":{"values":[0,4.2,8.3,12.5,16.7,21.8,24.9,30.2,34.3,38.5,42.6,46.8],"labelExpr":"datum.value < 2 ? 'Jan' : datum.value < 6 ? 'Feb' : datum.value < 10 ? 'Mar' : datum.value < 14 ? 'Apr' : datum.value < 19 ? 'May' : datum.value < 23 ? 'Jun' : datum.value < 27 ? 'Jul' : datum.value < 32 ? 'Aug' : datum.value < 36 ? 'Sep' : datum.value < 40 ? 'Oct' : datum.value < 44 ? 'Nov' : 'Dec'","grid":false,"labelPadding":8,"labelFlush":false,"labelOverlap":false,"title":null}},
"y":{"field":"v","type":"quantitative","scale":{"domain":[200,550],"nice":false,"zero":false},"axis":{"values":[200,250,300,350,400,450,500,550],"labelPadding":9,"title":null,"grid":true}},
"color":{"field":"s","type":"nominal","scale":{"domain":["2013","2014","2015","2016","2017","2018"],"range":["#8064A2","#4BACC6","#4F81BD","#C0504D","#9BBB59","#F79646"]},"legend":{"title":null}}
}}
]
},
{
"spacing":19,
"resolve":{"scale":{"color":"independent","x":"independent","y":"independent"},"legend":{"color":"independent"}},
"hconcat":[
{"width":38,"height":168,"data":{"values":[]},"mark":"rule","encoding":{}},
{"width":330,"height":123,"title":{"text":"山东省济南市","frame":"group","dx":-4},"data":{"name":"jn"},"mark":"line",
"encoding":{
"x":{"field":"w","type":"quantitative","scale":{"domain":[-0.6,51.5],"nice":false,"zero":false},"axis":{"values":[0,4.2,8.3,12.5,16.7,21.8,24.9,30.2,34.3,38.5,42.6,46.8],"labelExpr":"datum.value < 2 ? 'Jan' : datum.value < 6 ? 'Feb' : datum.value < 10 ? 'Mar' : datum.value < 14 ? 'Apr' : datum.value < 19 ? 'May' : datum.value < 23 ? 'Jun' : datum.value < 27 ? 'Jul' : datum.value < 32 ? 'Aug' : datum.value < 36 ? 'Sep' : datum.value < 40 ? 'Oct' : datum.value < 44 ? 'Nov' : 'Dec'","grid":false,"labelPadding":8,"labelFlush":false,"labelOverlap":false,"title":null}},
"y":{"field":"v","type":"quantitative","scale":{"domain":[200,550],"nice":false,"zero":false},"axis":{"values":[200,250,300,350,400,450,500,550],"labelPadding":9,"title":null,"grid":true}},
"color":{"field":"s","type":"nominal","scale":{"domain":["2013","2014","2015","2016","2017","2018"],"range":["#8064A2","#4BACC6","#4F81BD","#C0504D","#9BBB59","#F79646"]},"legend":{"title":null}}
}},
{"width":330,"height":123,"title":{"text":"河南省郑州市","frame":"group","dx":-17},"data":{"name":"zz"},"mark":"line",
"encoding":{
"x":{"field":"w","type":"quantitative","scale":{"domain":[-0.6,51.5],"nice":false,"zero":false},"axis":{"values":[0,4.2,8.3,12.5,16.7,21.8,24.9,30.2,34.3,38.5,42.6,46.8],"labelExpr":"datum.value < 2 ? 'Jan' : datum.value < 6 ? 'Feb' : datum.value < 10 ? 'Mar' : datum.value < 14 ? 'Apr' : datum.value < 19 ? 'May' : datum.value < 23 ? 'Jun' : datum.value < 27 ? 'Jul' : datum.value < 32 ? 'Aug' : datum.value < 36 ? 'Sep' : datum.value < 40 ? 'Oct' : datum.value < 44 ? 'Nov' : 'Dec'","grid":false,"labelPadding":8,"labelFlush":false,"labelOverlap":false,"title":null}},
"y":{"field":"v","type":"quantitative","scale":{"domain":[200,600],"nice":false,"zero":false},"axis":{"values":[200,250,300,350,400,450,500,550,600],"labelPadding":9,"title":null,"grid":true}},
"color":{"field":"s","type":"nominal","scale":{"domain":["2013","2014","2015","2016","2017","2018"],"range":["#8064A2","#4BACC6","#4F81BD","#C0504D","#9BBB59","#F79646"]},"legend":{"title":null}}
}}
]
},
{
"bounds":"flush",
"spacing":0,
"hconcat":[
{"width":672,"height":50,"title":{"text":"来源: 数字水泥网, 中国银河国际研究部","anchor":"start","frame":"group","dx":57,"offset":2,"fontSize":10,"fontWeight":"normal","color":"#C0504D"},
"data":{"values":[{"p":"红"}]},"mark":{"type":"bar","color":"#DB3A1E"},
"encoding":{"x":{"field":"p","type":"nominal","axis":null,"scale":{"paddingInner":0,"paddingOuter":0}},"y":{"field":"p","type":"nominal","axis":null,"scale":{"paddingInner":0,"paddingOuter":0}}}},
{"width":178,"height":50,"title":{"text":"5","anchor":"end","frame":"group","dx":-57,"offset":13,"font":"Lato","fontSize":11,"fontWeight":"normal","color":"#000000"},
"data":{"values":[{"p":"蓝"}]},"mark":{"type":"bar","color":"#0B4A9A"},
"encoding":{"x":{"field":"p","type":"nominal","axis":null,"scale":{"paddingInner":0,"paddingOuter":0}},"y":{"field":"p","type":"nominal","axis":null,"scale":{"paddingInner":0,"paddingOuter":0}}}}
]
}
]
}
